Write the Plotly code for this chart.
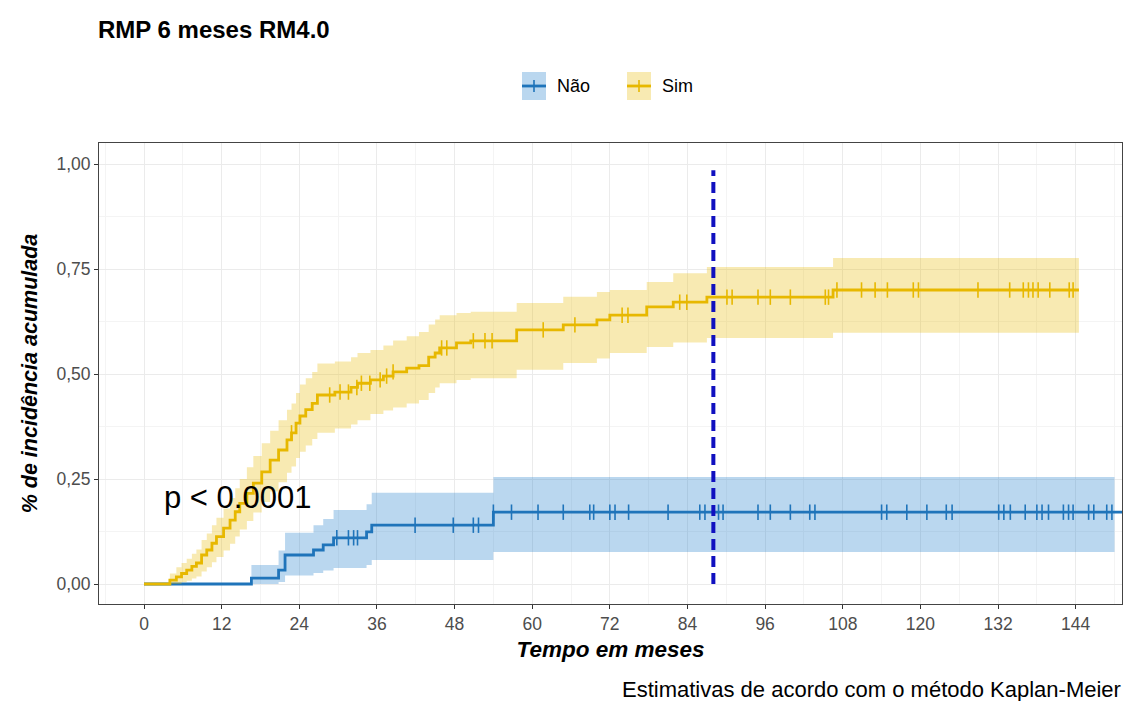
import plotly.graph_objects as go

# ---- Kaplan-Meier cumulative incidence, group "Sim" (step times in months) ----
sim_t = [0, 4.0, 5.0, 5.8, 6.6, 7.4, 8.1, 8.9, 9.7, 10.5, 11.2, 12.3, 13.3, 14.1, 14.8,
         15.9, 16.9, 18.2, 19.5, 20.8, 22.1, 22.8, 23.5, 24.1, 25.0, 26.0, 26.8, 29.5,
         32.0, 33.0, 35.0, 37.0, 38.5, 40.6, 42.5, 44.0, 45.0, 45.7, 48.3, 50.5, 57.6,
         64.8, 70.0, 72.0, 77.7, 81.8, 87.0, 106.5, 144.5]
sim_est = [0, 0.009, 0.017, 0.025, 0.033, 0.042, 0.050, 0.069, 0.081, 0.097, 0.113, 0.133,
           0.152, 0.172, 0.192, 0.216, 0.240, 0.267, 0.295, 0.319, 0.343, 0.360, 0.383,
           0.400, 0.415, 0.430, 0.450, 0.457, 0.468, 0.478, 0.486, 0.495, 0.505, 0.514,
           0.520, 0.540, 0.550, 0.562, 0.574, 0.579, 0.605, 0.617, 0.629, 0.640, 0.660,
           0.671, 0.683, 0.700, 0.700]
sim_low = [0, 0.0, 0.0, 0.004, 0.008, 0.013, 0.018, 0.030, 0.040, 0.052, 0.064, 0.080,
           0.096, 0.113, 0.130, 0.150, 0.170, 0.195, 0.220, 0.242, 0.265, 0.280, 0.300,
           0.315, 0.330, 0.345, 0.360, 0.370, 0.380, 0.390, 0.405, 0.413, 0.420, 0.430,
           0.438, 0.455, 0.468, 0.478, 0.486, 0.490, 0.510, 0.526, 0.537, 0.550, 0.564,
           0.575, 0.586, 0.598, 0.598]
sim_up = [0, 0.025, 0.040, 0.050, 0.060, 0.072, 0.082, 0.105, 0.120, 0.140, 0.158, 0.180,
          0.205, 0.228, 0.250, 0.278, 0.305, 0.335, 0.365, 0.390, 0.415, 0.430, 0.455,
          0.475, 0.490, 0.505, 0.525, 0.530, 0.540, 0.550, 0.557, 0.568, 0.580, 0.590,
          0.600, 0.618, 0.630, 0.640, 0.645, 0.648, 0.669, 0.684, 0.695, 0.700, 0.719,
          0.740, 0.755, 0.776, 0.776]
sim_cens = [22.8, 28.7, 30.3, 31.6, 32.9, 33.6, 34.9, 36.5, 37.5, 38.5, 46.0, 46.8, 50.9,
            52.7, 53.8, 61.7, 66.6, 73.9, 74.8, 82.8, 83.9, 90.1, 90.9, 94.9, 96.8, 99.9,
            105.3, 105.8, 107.1, 110.9, 113.0, 114.9, 118.9, 119.7, 128.9, 133.8, 135.9,
            136.7, 137.4, 138.2, 140.0, 143.0, 143.6]

# ---- group "Não" ----
nao_t = [0, 16.6, 20.8, 21.8, 26.2, 27.7, 29.3, 34.4, 35.2, 54.0, 150.0]
nao_est = [0, 0.014, 0.033, 0.069, 0.081, 0.093, 0.110, 0.124, 0.140, 0.171, 0.171]
nao_low = [0, 0.0, 0.005, 0.020, 0.026, 0.032, 0.038, 0.045, 0.057, 0.076, 0.076]
nao_up = [0, 0.045, 0.080, 0.122, 0.140, 0.155, 0.176, 0.190, 0.217, 0.255, 0.255]
nao_line_end = 151.2
nao_cens = [29.8, 31.6, 32.4, 33.0, 41.9, 47.8, 50.9, 51.7, 54.0, 56.8, 60.9, 64.8, 68.9,
            69.5, 72.0, 72.8, 74.9, 81.0, 85.9, 86.7, 88.8, 89.5, 94.9, 96.8, 99.9, 102.9,
            103.7, 114.0, 114.8, 117.9, 121.0, 124.0, 124.9, 132.1, 132.9, 133.9, 136.2,
            138.0, 138.8, 139.8, 142.1, 142.9, 143.6, 146.0, 146.8, 148.8, 149.6]

x_ticks = list(range(0, 145, 12))
y_ticks = [0, 0.25, 0.5, 0.75, 1.0]
y_tick_text = ["0,00", "0,25", "0,50", "0,75", "1,00"]
cutoff_month = 88
cutoff_top = 0.985
p_text = "p < 0.0001"
p_pos = (14.4, 0.205)

BLUE = "#1F74BA"
BLUE_BAND = "rgba(46,134,205,0.33)"
GOLD = "#E7B800"
GOLD_BAND = "rgba(231,184,0,0.30)"
FONT = "Liberation Sans, Arial"


def step_value(times, values, t):
    v = values[0]
    for ti, vi in zip(times, values):
        if ti <= t:
            v = vi
        else:
            break
    return v


fig = go.Figure()


def add_group(name, t, est, low, up, cens, line_col, band_col, line_end=None):
    fig.add_trace(go.Scatter(x=t, y=low, mode="lines", line=dict(width=0, shape="hv"),
                             hoverinfo="skip", showlegend=False))
    fig.add_trace(go.Scatter(x=t, y=up, mode="lines", line=dict(width=0, shape="hv"),
                             fill="tonexty", fillcolor=band_col, hoverinfo="skip",
                             showlegend=False))
    lx = list(t)
    ly = list(est)
    if line_end is not None:
        lx.append(line_end)
        ly.append(est[-1])
    fig.add_trace(go.Scatter(x=lx, y=ly, mode="lines", name=name,
                             line=dict(color=line_col, width=2.8, shape="hv"),
                             showlegend=False))
    fig.add_trace(go.Scatter(x=cens, y=[step_value(t, est, c) for c in cens],
                             mode="markers", showlegend=False,
                             marker=dict(symbol="line-ns", size=11,
                                         line=dict(color=line_col, width=1.6))))


add_group("Não", nao_t, nao_est, nao_low, nao_up, nao_cens, BLUE, BLUE_BAND, nao_line_end)
add_group("Sim", sim_t, sim_est, sim_low, sim_up, sim_cens, GOLD, GOLD_BAND)

# vertical cut-off marker
fig.add_trace(go.Scatter(x=[cutoff_month, cutoff_month], y=[0, cutoff_top], mode="lines",
                         line=dict(color="#1010C0", width=4, dash="11px,6px"),
                         showlegend=False, hoverinfo="skip"))

fig.add_annotation(x=p_pos[0], y=p_pos[1], text=p_text, showarrow=False,
                   font=dict(family=FONT, size=31, color="black"))

# plot-area geometry (pixels) used for paper-coordinate placement
L, R, T, B = 99, 1122, 143, 604
W, H = R - L, B - T


def px(x):
    return (x - L) / W


def py(y):
    return (B - y) / H


# legend keys
keys = [("Não", BLUE, BLUE_BAND, 522), ("Sim", GOLD, GOLD_BAND, 627)]
for label, col, band, x0 in keys:
    fig.add_shape(type="rect", xref="paper", yref="paper", x0=px(x0), x1=px(x0 + 24),
                  y0=py(100), y1=py(72), fillcolor=band, line=dict(width=0), layer="above")
    fig.add_shape(type="line", xref="paper", yref="paper", x0=px(x0), x1=px(x0 + 24),
                  y0=py(86), y1=py(86), line=dict(color=col, width=2.8), layer="above")
    fig.add_shape(type="line", xref="paper", yref="paper", x0=px(x0 + 12), x1=px(x0 + 12),
                  y0=py(80), y1=py(92), line=dict(color=col, width=1.6), layer="above")
    fig.add_annotation(xref="paper", yref="paper", x=px(x0 + 33), y=py(86), text=label,
                       showarrow=False, xanchor="left", yanchor="middle",
                       font=dict(family=FONT, size=18, color="black"))

fig.add_annotation(xref="paper", yref="paper", x=px(96), y=py(30), text="<b>RMP 6 meses RM4.0</b>",
                   showarrow=False, xanchor="left", yanchor="middle",
                   font=dict(family=FONT, size=24, color="black"))

fig.add_annotation(xref="paper", yref="paper", x=px(1123), y=py(689),
                   text="Estimativas de acordo com o método Kaplan-Meier",
                   showarrow=False, xanchor="right", yanchor="middle",
                   font=dict(family=FONT, size=22, color="black"))

axis_font = dict(family=FONT, size=17.5, color="#4D4D4D")
fig.update_layout(
    width=1126, height=701,
    margin=dict(l=L, r=1126 - R, t=T, b=701 - B),
    paper_bgcolor="white", plot_bgcolor="white",
    xaxis=dict(range=[(L - 144) / 6.47, (R - 144) / 6.47], tickvals=x_ticks,
               ticks="outside", ticklen=4, tickcolor="#333333", tickfont=axis_font,
               showgrid=True, gridcolor="#EBEBEB", gridwidth=1,
               minor=dict(dtick=6, tick0=0, showgrid=True, gridcolor="#F4F4F4", gridwidth=0.6),
               showline=True, mirror=True, linecolor="#444444", linewidth=1, zeroline=False,
               title=dict(text="<b><i>Tempo em meses</i></b>", standoff=8,
                          font=dict(family=FONT, size=22.5, color="black"))),
    yaxis=dict(range=[-(B - 584) / 420, (584 - T) / 420], tickvals=y_ticks, ticktext=y_tick_text,
               ticks="outside", ticklen=4, tickcolor="#333333", tickfont=axis_font,
               showgrid=True, gridcolor="#EBEBEB", gridwidth=1,
               minor=dict(dtick=0.125, tick0=0, showgrid=True, gridcolor="#F4F4F4", gridwidth=0.6),
               showline=True, mirror=True, linecolor="#444444", linewidth=1, zeroline=False,
               title=dict(text="<b><i>% de incidência acumulada</i></b>", standoff=12,
                          font=dict(family=FONT, size=21.5, color="black"))),
)

fig.write_html("out.html")
